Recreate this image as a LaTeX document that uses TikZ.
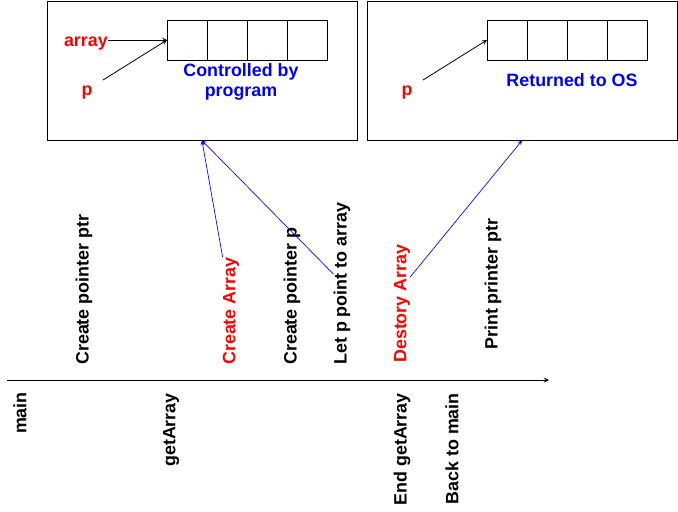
\documentclass[tikz,border=0pt]{standalone}
\usepackage{fontspec}
\setmainfont{Liberation Sans}
\usepackage{tikz}
\usetikzlibrary{calc}
\usetikzlibrary{positioning}
\tikzstyle{txt}=[font=\fontsize{13.4}{15.5}\selectfont\bfseries, inner sep=0pt]
\tikzstyle{redtxt}=[txt, text=red]
\tikzstyle{bluetxt}=[txt, text=blue, align=center]
\tikzstyle{up}=[txt, rotate=90, anchor=west]
\tikzstyle{down}=[txt, rotate=90, anchor=east]
\tikzstyle{memory}=[draw=black, line width=0.75pt, minimum width=232.5pt, minimum height=104.25pt, inner sep=0pt]
\tikzstyle{cell}=[draw=black, line width=0.75pt, minimum size=30pt, inner sep=0pt, outer sep=0pt]
\tikzstyle{link}=[draw=blue, ->, >=stealth, line width=0.5pt]

\begin{document}
\begin{tikzpicture}[x=0.75pt, y=-0.75pt]
\useasboundingbox (0,0) rectangle (678,511);
\node[memory] (box1) at (202,70.5){};
\node[memory] (box2) at (522,70.5){};
\node[cell] (a1) at (187,40){};
\node[cell] (a2) at (227,40){};
\node[cell] (a3) at (267,40){};
\node[cell] (a4) at (307,40){};
\node[cell] (b1) at (507,40){};
\node[cell] (b2) at (547,40){};
\node[cell] (b3) at (587,40){};
\node[cell] (b4) at (627,40){};
\node[redtxt, anchor=east] (arr) at (108,44){array};
\node[redtxt] (p1) at (87,93){p};
\node[redtxt] (p2) at (407,93){p};
\coordinate (p1tail) at (103,80);
\coordinate (p2tail) at (423,80);
\node[bluetxt] (ctrl) at (241,82){Controlled by\\program};
\node[bluetxt] (ret) at (572,80){Returned to OS};
\draw[->, >=stealth, line width=0.6pt](arr.east |- a1.west) -- (a1.west);
\draw[->, >=stealth, line width=0.6pt](p1tail) -- (a1.west);
\draw[->, >=stealth, line width=0.6pt](p2tail) -- (b1.west);
% timeline
\coordinate (t0) at (7,380);
\coordinate (t1) at (549,380);
\draw[->, >=stealth, line width=0.75pt](t0) -- (t1);
\node[up] (cptr) at (84,365){Create pointer ptr};
\node[up, text=red] (ca) at (231,365){Create Array};
\node[up] (cp) at (292,365){Create pointer p};
\node[up] (lp) at (342,365){Let p point to array};
\node[up, text=red] (da) at (402,363){Destory Array};
\node[up] (pp) at (493,350){Print printer ptr};
\node[down] (mn) at (20,392){main};
\node[down] (ga) at (171,393){getArray};
\node[down] (ega) at (402,393){End getArray};
\node[down] (btm) at (452,393){Back to main};
\draw[link](ca.north east) -- (box1.south);
\draw[link]($(lp.north)!0.12!(lp.north east)$) -- (box1.south);
\draw[link]($(da.south)!0.45!(da.south east)$) -- (box2.south);
\end{tikzpicture}
\end{document}
